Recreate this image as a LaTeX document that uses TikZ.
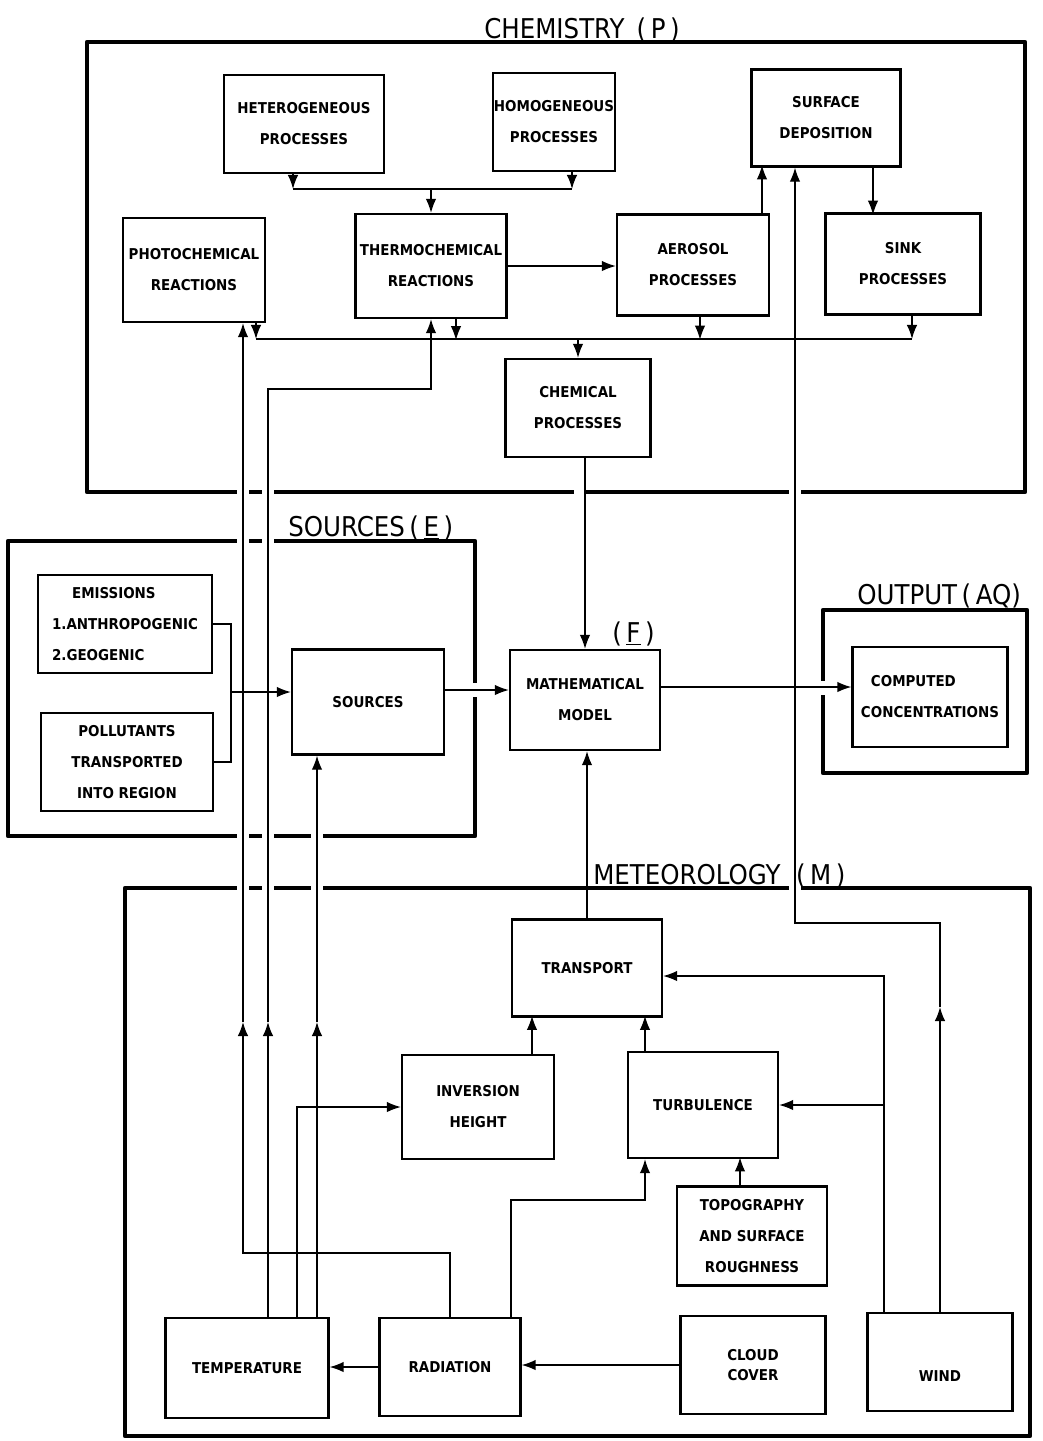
\documentclass[tikz,border=0pt]{standalone}
\usepackage{fontspec}
\usepackage{tikz}
\usetikzlibrary{arrows.meta, positioning, calc}
\newfontfamily\boxfamily{DejaVu Sans Condensed Bold}
\newfontfamily\titlefamily{DejaVu Sans Condensed}
\newlength{\px}
\setlength{\px}{0.02cm}
\newcommand{\boxfont}{\boxfamily\fontsize{8.5}{17.6}\selectfont}
\newcommand{\titlefont}{\titlefamily\fontsize{15.5}{18}\selectfont}
\tikzset{
  >={Latex[length=8pt,width=6pt]},  % punte piene
  % blocchi
  block/.style 2 args={draw,line width=1.3pt,minimum width=#1\px,minimum height=#2\px,
    inner sep=0pt,align=center,font=\boxfont},
  frame/.style={line width=2.4pt,line join=round},
  title/.style={anchor=base west,inner sep=0pt,font=\titlefont},
  % collegamenti
  link/.style={line width=0.8pt}
}
\begin{document}
\begin{tikzpicture}[x=0.02cm,y=-0.02cm]
  \useasboundingbox (0,0) rectangle (1042,1441);
  % cornici
  \draw[frame] (87,42) rectangle (1025,492);
  \draw[frame] (8,541) rectangle (475,836);
  \draw[frame] (823,610) rectangle (1027,773);
  \draw[frame] (125,888) rectangle (1030,1436);
  \foreach \x/\y in {243/492,268/492,580/492,795/492,243/541,268/541,
                     243/836,268/836,317/836,243/888,268/888,317/888,795/888}
    \fill[white] (\x-6,\y-5) rectangle (\x+6,\y+5);
  \foreach \x/\y in {475/690,823/688}
    \fill[white] (\x-5,\y-7) rectangle (\x+5,\y+7);
  % titoli
  \node[title] (tchem) at (484,38) {CHEMISTRY\ \,(\,\underline{P}\,)};
  \node[title] (tsrc) at (288,536) {SOURCES\,(\,\underline{E}\,)};
  \node[title] (tout) at (857,604) {OUTPUT\,(\,\underline{AQ})};
  \node[title] (tmet) at (593,884) {METEOROLOGY\ \ (\,\underline{M}\,)};
  \node[title] (tmod) at (612,642) {(\,\underline{F}\,)};
  % chimica
  \node[block={160}{98}] (hetero) at (304,124) {HETEROGENEOUS\\PROCESSES};
  \node[block={122}{98}] (homog) at (554,122) {HOMOGENEOUS\\PROCESSES};
  \node[block={149}{97}] (surfdep) at (826,118) {SURFACE\\DEPOSITION};
  \node[block={142}{104}] (photo) at (194,270) {PHOTOCHEMICAL\\REACTIONS};
  \node[block={151}{104}] (thermo) at (431,266) {THERMOCHEMICAL\\REACTIONS};
  \node[block={152}{101}] (aerosol) at (693,265) {AEROSOL\\PROCESSES};
  \node[block={155}{101}] (sink) at (903,264) {SINK\\PROCESSES};
  \node[block={145}{98}] (chemproc) at (578,408) {CHEMICAL\\PROCESSES};
  % sorgenti, modello, uscita
  \node[block={174}{98},align=left] (emis) at (125,624)
    {\hspace*{20\px}EMISSIONS\\1.ANTHROPOGENIC\\2.GEOGENIC};
  \node[block={172}{98}] (pollut) at (127,762) {POLLUTANTS\\TRANSPORTED\\INTO REGION};
  \node[block={152}{105}] (sources) at (368,702) {SOURCES};
  \node[block={150}{100}] (model) at (585,700) {MATHEMATICAL\\MODEL};
  \node[block={155}{100},align=left] (computed) at (930,697)
    {\hspace*{10\px}COMPUTED\\CONCENTRATIONS};
  % meteorologia
  \node[block={150}{97}] (transport) at (587,968) {TRANSPORT};
  \node[block={152}{104}] (inversion) at (478,1107) {INVERSION\\HEIGHT};
  \node[block={150}{106}] (turbul) at (703,1105) {TURBULENCE};
  \node[block={150}{99}] (topo) at (752,1236) {TOPOGRAPHY\\AND SURFACE\\ROUGHNESS};
  \node[block={163}{100}] (temp) at (247,1368) {TEMPERATURE};
  \node[block={141}{98}] (radiation) at (450,1367) {RADIATION};
  \node[block={145}{98},font=\boxfamily\fontsize{8.5}{11.3}\selectfont] (cloud) at (753,1365)
    {CLOUD\\COVER};
  \node[block={145}{98},font=\boxfamily\fontsize{8.5}{13}\selectfont] (wind) at (940,1362)
    {\strut\\WIND};
  % punti di snodo
  \coordinate (busA) at (293,189);
  \coordinate (busB) at (572,189);
  \coordinate (jtop) at (431,189);
  \coordinate (busC) at (256,339);
  \coordinate (busD) at (912,339);
  \coordinate (jsrc) at (231,692);
  \coordinate (mT1) at (243,1022);
  \coordinate (mT2) at (268,1022);
  \coordinate (mT3) at (317,1022);
  \coordinate (jrad) at (243,1253);
  \coordinate (jthermo) at (268,389);
  \coordinate (jturb) at (645,1200);
  \coordinate (mW) at (940,1007);
  \coordinate (jdep) at (795,923);
  % collegamenti chimica
  \draw[link] (busA) -- (busB);
  \draw[link,->] (hetero.south -| busA) -- (busA);
  \draw[link,->] (homog.south -| busB) -- (busB);
  \draw[link,->] (jtop) -- (thermo.north);
  \draw[link,->] (thermo.east) -- (thermo.east -| aerosol.west);
  \draw[link,->] ([xshift=69\px]aerosol.north) -- ++(0,-48);
  \draw[link,->] ([xshift=47\px]surfdep.south) -- ++(0,47);
  \draw[link] (busC) -- (busD);
  \draw[link,->] (photo.south -| busC) -- (busC);
  \draw[link,->] ([xshift=25\px]thermo.south) -- ++(0,21);
  \draw[link,->] ([xshift=7\px]aerosol.south) -- ++(0,23);
  \draw[link,->] (sink.south -| busD) -- (busD);
  \draw[link,->] (chemproc.north |- busC) -- (chemproc.north);
  \draw[link,->] (model.north |- chemproc.south) -- (model.north);
  % collegamenti sorgenti
  \draw[link] (emis.east) -| (jsrc) |- (pollut.east);
  \draw[link,->] (jsrc) -- (jsrc -| sources.west);
  \draw[link,->] ([yshift=12\px]sources.east) -- ([yshift=12\px]sources.east -| model.west);
  \draw[link,->] ([yshift=13\px]model.east) -- ([yshift=13\px]model.east -| computed.west);
  % collegamenti meteorologia
  \draw[link,->] (transport.north) -- (transport.north |- model.south);
  \draw[link,->] ([xshift=54\px]inversion.north) -- ++(0,-38);
  \draw[link,->] ([xshift=-58\px]turbul.north) -- ++(0,-35);
  \draw[link,->] ([xshift=-12\px]topo.north) -- ++(0,-28);
  \draw[link,->] ([xshift=61\px]radiation.north) |- (jturb) -- (jturb |- turbul.south);
  \draw[link,->] (radiation.west) -- (radiation.west -| temp.east);
  \draw[link,->] (cloud.west) -- (cloud.west -| radiation.east);
  \draw[link,->] (radiation.north) |- (jrad) -- (mT1);
  \draw[link,->] (mT1) -- (mT1 |- photo.south);
  \draw[link,->] (temp.north -| mT2) -- (mT2);
  \draw[link,->] (mT2) -- (jthermo) -| (thermo.south);
  \draw[link,->] ([xshift=50\px]temp.north) |- (inversion.west);
  \draw[link,->] (temp.north -| mT3) -- (mT3);
  \draw[link,->] (mT3) -- (mT3 |- sources.south);
  \draw[link,->] ([xshift=-56\px]wind.north) |- ([yshift=-8\px]transport.east);
  \draw[link,->] ([xshift=-56\px]wind.north |- turbul.east) -- (turbul.east);
  \draw[link,->] (wind.north) -- (mW);
  \draw[link,->] (mW) |- (jdep) -- (jdep |- surfdep.south);
\end{tikzpicture}
\end{document}
